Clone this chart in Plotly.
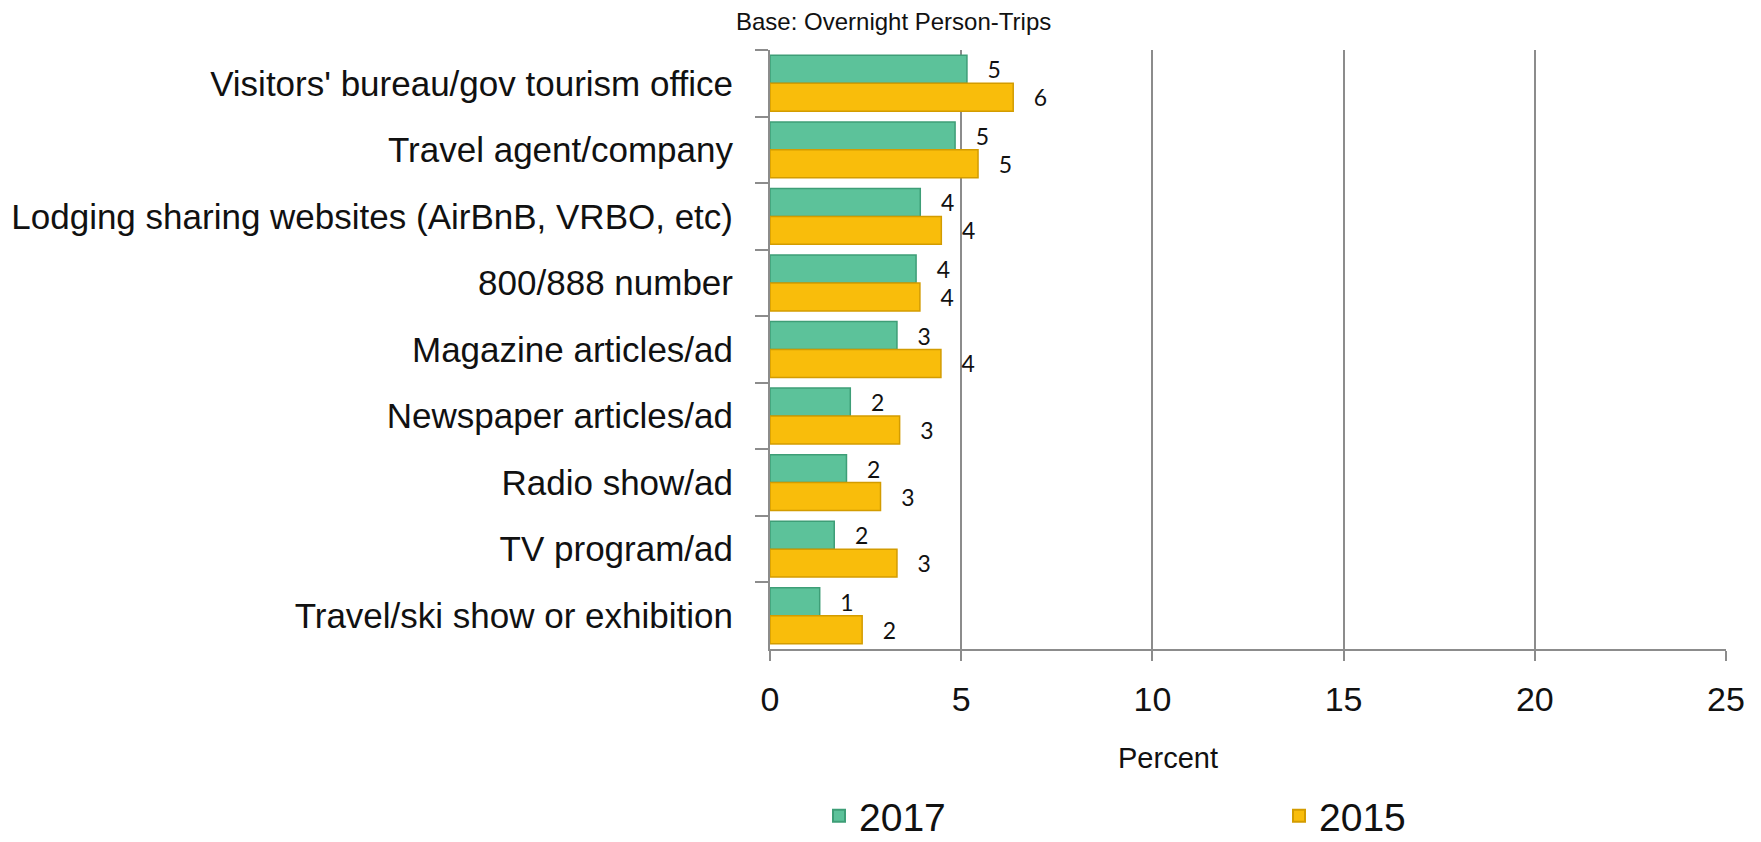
import plotly.graph_objects as go

categories = [
    "Visitors' bureau/gov tourism office",
    "Travel agent/company",
    "Lodging sharing websites (AirBnB, VRBO, etc)",
    "800/888 number",
    "Magazine articles/ad",
    "Newspaper articles/ad",
    "Radio show/ad",
    "TV program/ad",
    "Travel/ski show or exhibition",
]
values_2017 = [5.15, 4.84, 3.93, 3.82, 3.32, 2.10, 2.00, 1.68, 1.30]
values_2015 = [6.36, 5.44, 4.48, 3.92, 4.47, 3.39, 2.89, 3.32, 2.41]
x_ticks = [0, 5, 10, 15, 20, 25]

SANS = "Liberation Sans, Arial, sans-serif"
GRID = "#8c8c8c"

# plot area in pixels
L, R, T, B = 770, 1726, 50, 649
W, H = R - L, B - T

fig = go.Figure()
for name, vals, fill, edge in [
    ("2017", values_2017, "#5CC29A", "#3E9E77"),
    ("2015", values_2015, "#F9BD0B", "#D39C00"),
]:
    fig.add_trace(go.Bar(
        name=name, y=categories, x=vals, orientation="h",
        marker=dict(color=fill, line=dict(color=edge, width=1.5)),
        texttemplate="   %{x:.0f}", textposition="outside",
        textfont=dict(family="Lato, sans-serif", size=23, color="#111"),
        cliponaxis=False,
    ))

fig.update_layout(
    width=1761, height=842,
    margin=dict(l=L, r=1761 - R, t=T, b=842 - B, autoexpand=False),
    paper_bgcolor="white", plot_bgcolor="white",
    barmode="group", bargap=0.16, bargroupgap=0,
    showlegend=True,
    legend=dict(
        orientation="h", x=(819 - L) / W, xanchor="left",
        y=(B - 816) / H, yanchor="middle",
        font=dict(family=SANS, size=39, color="#111"),
        entrywidth=415, entrywidthmode="pixels",
        itemsizing="constant",
    ),
    xaxis=dict(
        range=[0, 25], tickvals=x_ticks,
        showgrid=True, gridcolor=GRID, gridwidth=1.5,
        showline=True, linecolor=GRID, linewidth=2,
        ticks="outside", ticklen=10, tickcolor=GRID, tickwidth=1.5,
        tickfont=dict(family=SANS, size=34, color="#111"),
        ticklabelstandoff=9,
        zeroline=False,
    ),
    yaxis=dict(
        autorange="reversed",
        showgrid=False,
        showline=True, linecolor=GRID, linewidth=2,
        ticks="outside", ticklen=13, tickcolor=GRID, tickwidth=2,
        tickson="boundaries",
        tickfont=dict(family=SANS, size=35, color="#111"),
        ticklabelstandoff=28,
    ),
    annotations=[
        dict(text="Base: Overnight Person-Trips", xref="paper", yref="paper",
             x=(893 - L) / W, y=(B - 22) / H, xanchor="center", yanchor="middle",
             showarrow=False, font=dict(family=SANS, size=24, color="#111")),
        dict(text="Percent", xref="paper", yref="paper",
             x=(1168 - L) / W, y=(B - 758) / H, xanchor="center", yanchor="middle",
             showarrow=False, font=dict(family=SANS, size=29, color="#111")),
    ],
)

fig.write_html("out.html")
